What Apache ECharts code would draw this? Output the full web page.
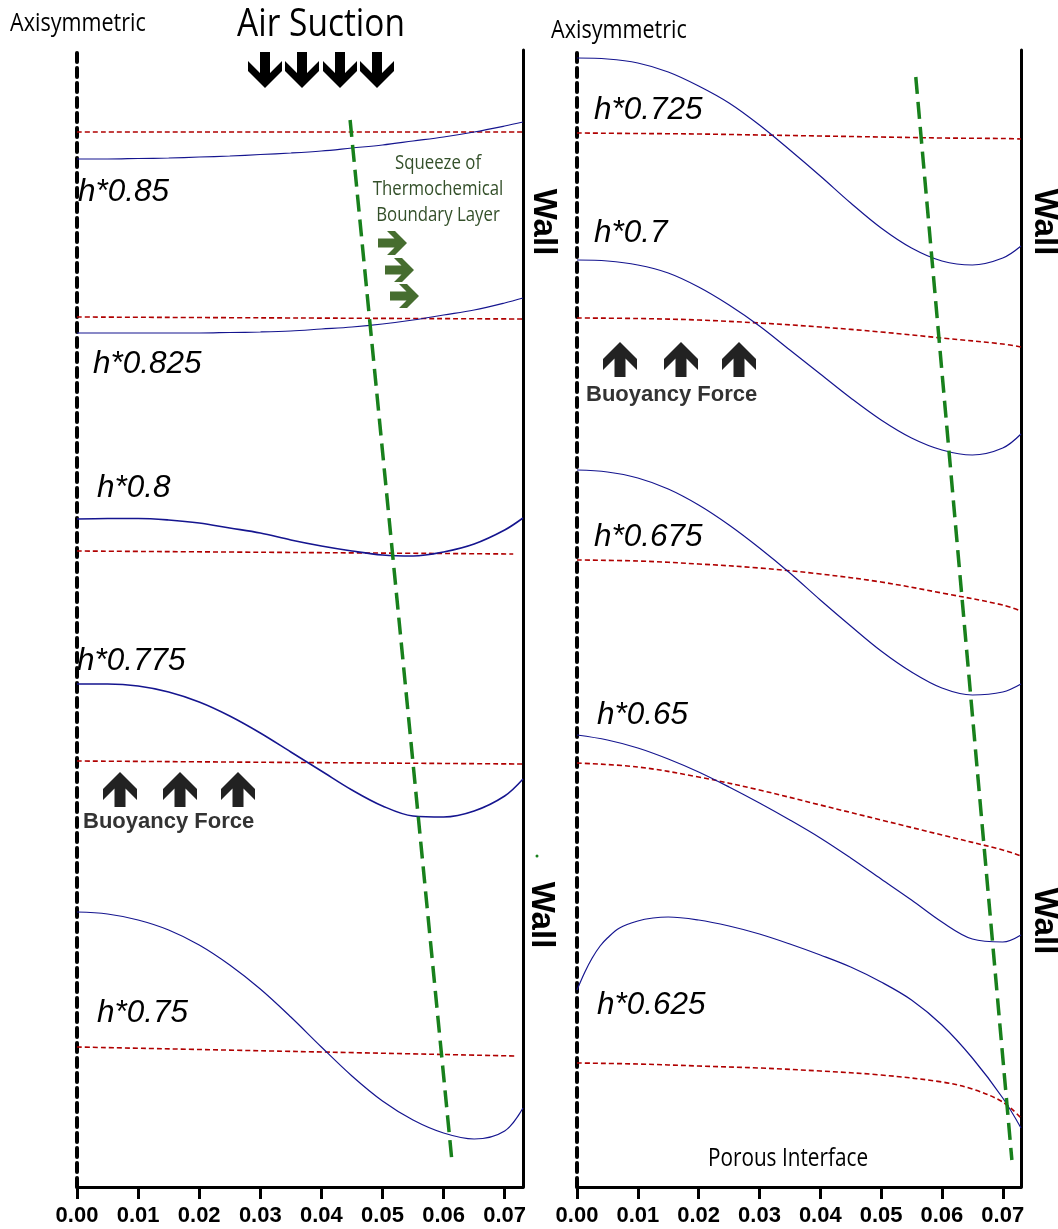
<!DOCTYPE html>
<html><head><meta charset="utf-8">
<script src="https://cdn.jsdelivr.net/npm/echarts@6/dist/echarts.min.js"></script>
<style>html,body{margin:0;padding:0;background:#fff}#c{width:1058px;height:1229px}</style>
</head><body><div id="c"></div>
<script>
// ---------- data ----------
const xTicks = [0, 0.01, 0.02, 0.03, 0.04, 0.05, 0.06, 0.07];
const xSamples = [0, 0.005, 0.01, 0.015, 0.02, 0.025, 0.03, 0.035, 0.04, 0.045, 0.05, 0.055, 0.06, 0.065, 0.07, 0.073];

// left panel (h*0.85 ... h*0.75), profile height units
const blue085  = [1028, 1028, 1028.5, 1029, 1030, 1031, 1032.5, 1034, 1036, 1039, 1042, 1046, 1050, 1055, 1061, 1065];
const blue0825 = [854, 854, 854, 854, 854, 854.5, 855, 856, 858, 860, 863, 867, 872, 877, 884, 889];
const blue08   = [668, 668.5, 668.5, 667, 664, 659, 654, 647, 641, 636, 632, 631, 635, 643, 657, 669];
const blue0775 = [503, 503, 501, 495, 485, 471, 454, 435, 416, 397, 381, 371, 370, 376, 391, 408];
const blue075  = [275, 273, 267, 257, 242, 222, 198, 170, 140, 111, 86, 67, 54, 48, 56, 79];

const red085  = [[0, 1055], [0.0365, 1055], [0.073, 1055]];
const red0825 = [[0, 870], [0.0365, 869], [0.073, 868]];
const red08   = [[0, 636], [0.036, 634.5], [0.0714, 633]];
const red0775 = [[0, 426], [0.0365, 424.5], [0.073, 423]];
const red075  = [[0, 140], [0.036, 135.5], [0.0720, 131]];

// right panel (h*0.725 ... h*0.625)
const blue0725 = [1129, 1128, 1124, 1115, 1101, 1084, 1062, 1037, 1011, 984, 959, 939, 926, 922, 929, 941];
const blue07   = [927, 926, 922, 914, 900, 882, 861, 837, 813, 789, 767, 749, 737, 732, 739, 753];
const blue0675 = [717, 715, 709, 698, 682, 662, 639, 614, 587, 561, 536, 515, 499, 492, 495, 503];
const blue065  = [452, 447, 439, 428, 415, 400, 384, 367, 349, 329, 308, 287, 265, 248, 245, 252];
const x0625    = [0, 0.0013, 0.0025, 0.0038, 0.005, 0.007, 0.01, 0.0125, 0.015, 0.02, 0.025, 0.03, 0.035, 0.04, 0.045, 0.05, 0.055, 0.06, 0.065, 0.07, 0.073];
const blue0625 = [197, 215, 229, 241, 249, 259, 266, 269, 270, 267, 261, 253, 243, 232, 220, 205, 187, 162, 129, 89, 59];

const redXRight = [0, 0.01, 0.02, 0.03, 0.04, 0.05, 0.06, 0.07, 0.073];
const red0725 = [1054, 1053.5, 1053, 1052, 1051, 1050, 1049, 1048.5, 1048];
const red07   = [869, 868.5, 867, 864, 860, 855, 849, 843, 840];
const red0675 = [627, 626, 623, 619, 613, 605, 594, 582, 576];
const red065  = [424, 420, 410, 397, 382, 367, 352, 337, 331];
const redX0625 = [0, 0.01, 0.02, 0.03, 0.04, 0.05, 0.06, 0.065, 0.07, 0.073];
const red0625 = [124, 123, 121, 119, 116, 112, 105, 98, 85, 69];

const greenLeft  = [[0.0447, 1067], [0.0614, 24]];
const greenRight = [[0.0557, 1110], [0.0715, 27]];

const leftLabels  = ['h*0.85', 'h*0.825', 'h*0.8', 'h*0.775', 'h*0.75'];
const rightLabels = ['h*0.725', 'h*0.7', 'h*0.675', 'h*0.65', 'h*0.625'];

// ---------- helpers ----------
const zip = (xs, ys) => xs.map((x, i) => [x, ys[i]]);
const BLUE = '#15158f', RED = '#b00000', GREEN = '#18801c';
function blue(data, yi, w) {
  return { type: 'line', xAxisIndex: yi === 0 ? 0 : 1, yAxisIndex: yi, data, smooth: 0.35, symbol: 'none',
    lineStyle: { color: BLUE, width: w || 1.2 }, z: 3 };
}
function red(data, yi) {
  return { type: 'line', xAxisIndex: yi === 0 ? 0 : 1, yAxisIndex: yi, data, smooth: 0.35, symbol: 'none',
    lineStyle: { color: RED, width: 1.6, type: [5, 3] }, z: 2 };
}
function green(data, yi) {
  return { type: 'line', xAxisIndex: yi === 0 ? 0 : 1, yAxisIndex: yi, data, symbol: 'none',
    lineStyle: { color: GREEN, width: 3.5, type: [17, 8] }, z: 4 };
}
function arrowPts(h, w, s, d) {
  return [[-s/2, 0], [s/2, 0], [s/2, h-d-s/2], [w/2, h-d-w/2], [w/2, h-w/2], [0, h],
          [-w/2, h-w/2], [-w/2, h-d-w/2], [-s/2, h-d-s/2]];
}
function downArrow(cx, top, color) {
  return { type: 'polygon', x: cx, y: top, shape: { points: arrowPts(36, 34, 10, 10) }, style: { fill: color } };
}
function upArrow(cx, bottom, color) {
  return { type: 'polygon', x: cx, y: bottom, shape: { points: arrowPts(35, 34, 11, 11).map(p => [p[0], -p[1]]) }, style: { fill: color } };
}
function rightArrow(left, cy, color) {
  return { type: 'polygon', x: left, y: cy, shape: { points: arrowPts(29, 24, 9, 8).map(p => [p[1], p[0]]) }, style: { fill: color } };
}
function txt(text, x, y, o) {
  return Object.assign({ type: 'text', x, y, style: Object.assign({ text, fill: '#000', textAlign: 'left', textVerticalAlign: 'middle' }, o.style) },
    o.scaleX ? { scaleX: o.scaleX } : {}, o.rotation ? { rotation: o.rotation } : {});
}
const hStyle = { font: 'italic 31.5px "Liberation Sans", Arial, sans-serif' };
const segoe = (sz) => ({ font: sz + 'px "Open Sans", sans-serif' });
const wallStyle = { font: 'bold 33px "Liberation Sans", Arial, sans-serif', textAlign: 'center' };

// ---------- chart ----------
const chart = echarts.init(document.getElementById('c'));
const xAxisBase = (gi) => ({
  type: 'value', gridIndex: gi, min: 0, max: 0.073, interval: 0.01,
  axisLine: { show: true, onZero: false, lineStyle: { color: '#000', width: 3 } },
  axisTick: { show: true, length: 12, customValues: xTicks, lineStyle: { color: '#000', width: 3 } },
  axisLabel: { customValues: xTicks, formatter: v => v.toFixed(2), fontFamily: '"Liberation Sans", Arial', fontWeight: 'bold', fontSize: 22, color: '#000', margin: 18 },
  splitLine: { show: false }
});
const yAxisBase = (gi, pos) => ({
  type: 'value', gridIndex: gi, min: 0, max: 1137, position: pos,
  axisLine: { show: true, lineStyle: pos === 'left' ? { color: '#000', width: 4, type: [9, 6], cap: 'round' } : { color: '#000', width: 3 } },
  axisTick: { show: false }, axisLabel: { show: false }, splitLine: { show: false }
});

const graphics = [
  txt('Axisymmetric', 10, 24, { style: segoe(26), scaleX: 0.83 }),
  txt('Axisymmetric', 551, 31, { style: segoe(26), scaleX: 0.83 }),
  txt('Air Suction', 321, 25, { style: Object.assign(segoe(38), { textAlign: 'center' }), scaleX: 0.88 }),
  txt('Squeeze of\nThermochemical\nBoundary Layer', 438, 189, { style: Object.assign(segoe(20), { textAlign: 'center', fill: '#34502a', lineHeight: 26 }), scaleX: 0.84 }),
  txt('Porous Interface', 788, 1159, { style: Object.assign(segoe(25), { textAlign: 'center' }), scaleX: 0.83 }),
  txt('Buoyancy Force', 83, 822, { style: { font: 'bold 22px "Liberation Sans", Arial', fill: '#333' } }),
  txt('Buoyancy Force', 586, 395, { style: { font: 'bold 22px "Liberation Sans", Arial', fill: '#333' } }),
  txt('Wall', 543, 222, { style: wallStyle, rotation: -Math.PI / 2 }),
  txt('Wall', 541, 915, { style: wallStyle, rotation: -Math.PI / 2 }),
  txt('Wall', 1044, 222, { style: wallStyle, rotation: -Math.PI / 2 }),
  txt('Wall', 1044, 921, { style: wallStyle, rotation: -Math.PI / 2 }),
  downArrow(265, 52, '#000'), downArrow(302, 52, '#000'), downArrow(340, 52, '#000'), downArrow(377, 52, '#000'),
  upArrow(120, 807, '#222'), upArrow(180, 807, '#222'), upArrow(238, 807, '#222'),
  upArrow(620, 377, '#222'), upArrow(681, 377, '#222'), upArrow(739, 377, '#222'),
  rightArrow(378, 243, '#466d2f'), rightArrow(385, 270, '#466d2f'), rightArrow(390, 296, '#466d2f'),
  { type: 'circle', shape: { cx: 537, cy: 856, r: 1.5 }, style: { fill: GREEN } }
];
const leftPos = [[78, 192], [93, 364], [97, 488], [77, 661], [97, 1013]];
const rightPos = [[594, 110], [594, 233], [594, 537], [597, 715], [597, 1005]];
leftLabels.forEach((t, i) => graphics.push(txt(t, leftPos[i][0], leftPos[i][1], { style: hStyle })));
rightLabels.forEach((t, i) => graphics.push(txt(t, rightPos[i][0], rightPos[i][1], { style: hStyle })));

chart.setOption({
  animation: false,
  grid: [{ left: 77, right: 535, top: 50, bottom: 42 }, { left: 577, right: 37, top: 50, bottom: 42 }],
  xAxis: [xAxisBase(0), xAxisBase(1)],
  yAxis: [yAxisBase(0, 'left'), yAxisBase(0, 'right'), yAxisBase(1, 'left'), yAxisBase(1, 'right')],
  series: [
    blue(zip(xSamples, blue085), 0), blue(zip(xSamples, blue0825), 0), blue(zip(xSamples, blue08), 0, 1.6),
    blue(zip(xSamples, blue0775), 0, 1.5), blue(zip(xSamples, blue075), 0),
    red(red085, 0), red(red0825, 0), red(red08, 0), red(red0775, 0), red(red075, 0),
    green(greenLeft, 0),
    blue(zip(xSamples, blue0725), 2), blue(zip(xSamples, blue07), 2), blue(zip(xSamples, blue0675), 2),
    blue(zip(xSamples, blue065), 2), blue(zip(x0625, blue0625), 2),
    red(zip(redXRight, red0725), 2), red(zip(redXRight, red07), 2), red(zip(redXRight, red0675), 2),
    red(zip(redXRight, red065), 2), red(zip(redX0625, red0625), 2),
    green(greenRight, 2)
  ],
  graphic: graphics
});
</script>
</body></html>
